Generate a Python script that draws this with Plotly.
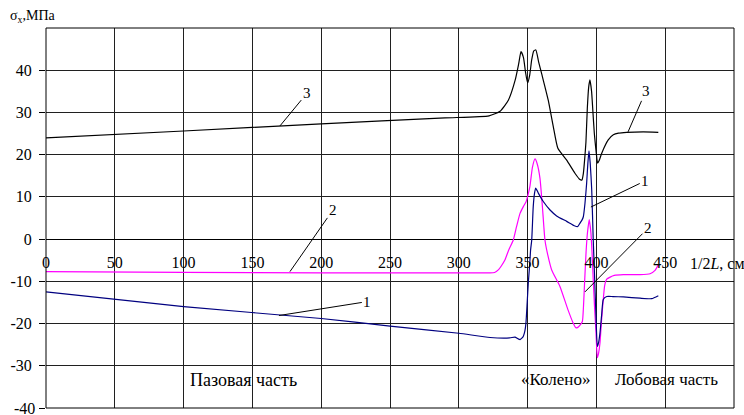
import plotly.graph_objects as go

# ---- data ----
x1 = [0, 100, 200, 250, 300, 322.7, 337, 340.8, 343, 344.5, 346, 346.9, 348, 348.8, 349.7,
      350.5, 351.4, 352.2, 353, 354.1, 355.1, 355.9, 357.8, 361.4, 366.3, 371.1, 378.4, 384.4,
      386.5, 388.1, 389.5, 390.5, 391.7, 392.9, 393.8, 394.6, 395.5, 396.6, 397.7, 398.7,
      399.7, 400.7, 401.6, 402.6, 403.8, 405, 407.5, 412, 419.6, 431.7, 440.2, 445]
y1 = [-12.5, -16, -18.8, -20.6, -22.3, -23.3, -23.4, -23.2, -23.6, -23.8, -23.4, -23.0, -21.8,
      -19.9, -15, -10.4, -6.5, -2.5, -0.2, 7.7, 11, 12.1, 10.9, 8.9, 6.9, 5.5, 4.2, 3.1,
      3.0, 3.8, 4.5, 5.3, 8.5, 13.2, 18, 20.9, 18, 11.7, -0.2, -9,
      -18.3, -25.4, -24.5, -22.2, -18, -14.3, -13.6, -13.6, -13.7, -14.0, -14.1, -13.4]

x2 = [0, 100, 200, 286, 322.7, 326, 328.7, 331, 333.6, 336, 339.6, 342, 344.5, 346.9, 348.8,
      350.3, 351.7, 353.5, 355.4, 357, 359, 360.8, 362.6, 364.5, 367.5, 373.5, 379.3, 383,
      385, 386.5, 387.8, 389.8, 390.6, 391.4, 392.5, 393.5, 394.8, 396, 396.8, 397.8, 398.8,
      399.7, 400.7, 401.6, 402.6, 403.8, 405, 406, 407.5, 410, 413, 419.6, 431.7, 439, 442.6, 445]
y2 = [-7.7, -7.9, -8.0, -8.0, -8.0, -7.9, -7.3, -6.3, -4.9, -2.8, -0.2, 3.0, 6.1, 7.7, 8.8,
      10.5, 12.5, 17.0, 19.0, 17.8, 14.4, 7.5, -0.2, -3.5, -7.3, -11.2, -16.7, -19.8,
      -21.0, -20.9, -20.5, -19.5, -16, -10.4, -3, 1.5, 4.6, 1.5, -3, -10.4, -17,
      -22.2, -28.1, -27, -24.6, -19, -14.3, -11, -9.5, -9.0, -8.6, -8.4, -8.4, -8.2, -7.4, -6.1]

x3 = [0, 100, 200, 290, 322, 330, 336, 341, 343.5, 345.2, 347, 348.5, 350, 351.5, 353,
      354.5, 356, 358, 360.2, 365, 368.7, 372, 378.4, 384.4, 388, 389.5, 390.5, 391.5,
      392.4, 393.4, 394.4, 395.3, 396.5, 397.5, 398.5, 399.7, 400.9, 402, 403.8, 408.6,
      412.3, 416, 422, 434, 445]
y3 = [24, 25.6, 27.3, 28.7, 29.2, 30.3, 32.9, 37.7, 41.5, 44.4, 43, 39.5, 37, 38.8, 42.5,
      44.6, 44.8, 42, 39.2, 32.9, 26.6, 21.5, 18.7, 15.6, 14.1, 14.0, 15.5, 19,
      23, 31, 36, 37.7, 35, 30, 25, 21, 18.0, 18.6, 20.3, 23.5,
      24.7, 25.1, 25.3, 25.4, 25.3]

x_ticks = [0, 50, 100, 150, 200, 250, 300, 350, 400, 450]
y_ticks = [-40, -30, -20, -10, 0, 10, 20, 30, 40]

FONT = "Liberation Serif, Times New Roman, serif"

fig = go.Figure()
fig.add_trace(go.Scatter(x=x3, y=y3, mode="lines", line=dict(color="#000000", width=1.2, shape="spline", smoothing=0.5)))
fig.add_trace(go.Scatter(x=x2, y=y2, mode="lines", line=dict(color="#FF00FF", width=1.2, shape="spline", smoothing=0.5)))
fig.add_trace(go.Scatter(x=x1, y=y1, mode="lines", line=dict(color="#000080", width=1.2, shape="spline", smoothing=0.5)))

# curve labels with leader lines
leaders = [
    ("3", 170, 26.8, 189.5, 34.5),
    ("1", 169.3, -18.1, 233.5, -14.8),
    ("2", 177.3, -7.7, 208.5, 6.9),
    ("3", 423, 25.4, 435.8, 35.0),
    ("1", 396, 7.6, 435.5, 13.8),
    ("2", 391.7, -12.5, 437.5, 2.6),
]
for t, hx, hy, tx, ty in leaders:
    fig.add_annotation(x=hx, y=hy, ax=tx, ay=ty, xref="x", yref="y", axref="x", ayref="y",
                       text=t, showarrow=True, arrowhead=0, arrowwidth=1, arrowcolor="black",
                       standoff=0, startstandoff=0,
                       font=dict(family=FONT, size=15, color="black"))

fig.add_annotation(x=466.6, y=0, xref="x", yref="y", text="1/2<i>L</i>, см", showarrow=False,
                   xanchor="left", yanchor="middle", yshift=-24,
                   font=dict(family=FONT, size=16, color="black"))
for txt, xv, fs in [("Пазовая часть", 143.5, 18), ("«Колено»", 370.6, 17), ("Лобовая часть", 450.6, 17)]:
    fig.add_annotation(x=xv, y=-33.3, xref="x", yref="y", text=txt, showarrow=False,
                       xanchor="center", yanchor="middle",
                       font=dict(family=FONT, size=fs, color="black"))
fig.add_annotation(x=-0.0552, y=1.029, xref="paper", yref="paper", text="σ<sub>x</sub>,МПа",
                   showarrow=False, xanchor="left", yanchor="middle",
                   font=dict(family=FONT, size=14, color="black"))
# bottom y tick label (-40) sits on the figure edge
fig.add_annotation(x=0, y=y_ticks[0], xref="x", yref="y", text=str(y_ticks[0]), showarrow=False,
                   xanchor="right", yanchor="middle", xshift=-9,
                   font=dict(family=FONT, size=16, color="black"))

fig.add_shape(type="rect", xref="x domain", yref="y domain", x0=0, x1=1, y0=0, y1=1,
              line=dict(color="black", width=1))

fig.update_layout(
    width=744, height=415,
    margin=dict(l=46, r=10, t=28, b=7, autoexpand=False),
    paper_bgcolor="white", plot_bgcolor="white",
    showlegend=False,
    font=dict(family=FONT, size=16, color="black"),
    xaxis=dict(range=[0, 500], tickvals=x_ticks, ticktext=[str(v) for v in x_ticks],
               showgrid=True, gridcolor="#202020", gridwidth=1, zeroline=False,
               showline=False, anchor="free", position=40/90, ticks="", automargin=False,
               ticklabelstandoff=12, tickfont=dict(family=FONT, size=16, color="black")),
    yaxis=dict(range=[-40, 50], tickvals=y_ticks, ticktext=[str(v) for v in y_ticks],
               showgrid=True, gridcolor="#202020", gridwidth=1, zeroline=True,
               zerolinecolor="black", zerolinewidth=1, showline=False, automargin=False,
               ticks="outside", ticklen=6, tickcolor="black", ticklabelstandoff=4,
               tickfont=dict(family=FONT, size=16, color="black")),
)

fig.write_html("out.html", config={"displayModeBar": False},
               post_script="document.body.style.margin='0';document.body.style.overflow='hidden';")
